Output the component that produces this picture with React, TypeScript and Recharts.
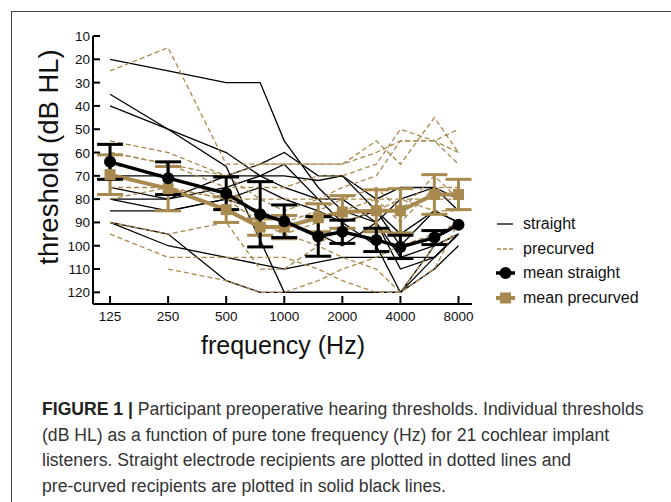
import React from 'react';
import { ComposedChart, Line, XAxis, YAxis, ErrorBar } from 'recharts';

// frequencies (Hz) tested
const freqs = [125, 250, 500, 750, 1000, 1500, 2000, 3000, 4000, 6000, 8000];
const xTicks = [125, 250, 500, 1000, 2000, 4000, 8000];
const yTicks = [10, 20, 30, 40, 50, 60, 70, 80, 90, 100, 110, 120];

// individual thresholds, straight electrode (solid black)
const straight1 = [20, 25, 30, 30, 55, 75, 85, 90, 110, 105, 95];
const straight2 = [35, 50, 66, null, 120, null, 120, 120, 120, 105, 95];
const straight3 = [40, 50, 60, 70, 75, 80, 90, 100, 120, 100, 95];
const straight4 = [70, 70, 70, 70, 70, 72, 70, 80, 75, 75, 80];
const straight5 = [75, 80, 75, 70, 65, 80, 80, 90, 80, 75, 85];
const straight6 = [80, 85, 80, 75, 80, 85, 90, 85, 95, 85, 90];
const straight7 = [85, 85, 80, 85, 90, 95, 100, 90, 105, 100, 95];
const straight8 = [90, 100, 105, 108, 110, 107, 105, 105, 105, 105, 95];
const straight9 = [90, 95, 115, 120, 120, 120, 120, 120, 120, 110, 100];
const straight10 = [80, 80, 70, 65, 60, 70, 70, 85, 100, 85, 90];

// individual thresholds, precurved electrode (dashed brown)
const precurved1 = [25, 15, 65, 65, 65, 65, 65, 60, 55, 55, 65];
const precurved2 = [55, 60, 70, 65, 65, 65, 65, 55, 65, 45, 60];
const precurved3 = [60, 65, 75, 75, 75, 70, 70, 65, 50, 55, 60];
const precurved4 = [60, 65, 70, 80, 80, 80, 75, 70, 55, 55, 50];
const precurved5 = [75, 75, 80, 80, 85, 80, 80, 75, 85, 70, 80];
const precurved6 = [80, 75, 80, 90, 95, 90, 85, 80, 80, 85, 85];
const precurved7 = [90, 95, 90, 110, 110, 100, 90, 85, 80, 80, 80];
const precurved8 = [95, 105, 105, 105, 105, 110, 115, 120, 120, 110, 90];
const precurved9 = [null, 110, 115, 120, 120, 115, 110, 105, 100, 95, 90];
const precurved10 = [70, 75, 85, 90, 95, 100, 105, 110, 120, 100, 95];
const precurved11 = [65, 70, 80, 85, 90, 85, 80, 80, 90, 75, 75];

// group means and error bars
const meanStraight = [64, 71, 77.5, 86.5, 89.5, 96, 94, 97.5, 100.5, 96.5, 91];
const errStraight = [7.5, 7, 7, 14, 7, 8.5, 5, 5, 5, 3, 0];
const meanPrecurved = [69.5, 75.5, 84.5, 92, 92, 88, 85.5, 85, 85, 78, 78];
const errPrecurved = [8.5, 9.5, 5.5, 3.5, 5, 6, 7, 9, 9.5, 8.5, 6.5];

const straightLines = [straight1, straight2, straight3, straight4, straight5, straight6, straight7, straight8, straight9, straight10];
const precurvedLines = [precurved1, precurved2, precurved3, precurved4, precurved5, precurved6, precurved7, precurved8, precurved9, precurved10, precurved11];

const BROWN = '#a88a4f';
const FONT = '"Liberation Sans", Arial, Helvetica, sans-serif';

const data = freqs.map((f, i) => {
  const row: Record<string, number | null> = {
    freq: f,
    meanS: meanStraight[i],
    errS: errStraight[i],
    meanP: meanPrecurved[i],
    errP: errPrecurved[i],
  };
  straightLines.forEach((s, k) => (row[`s${k}`] = s[i]));
  precurvedLines.forEach((p, k) => (row[`p${k}`] = p[i]));
  return row;
});

const YTick = ({ x, y, payload }: any) => (
  <g>
    <line x1={x} x2={x + 7} y1={y} y2={y} stroke="#000" strokeWidth={2} />
    <text x={x - 3} y={y} dy={5} textAnchor="end" fontSize={13.5} fontFamily={FONT} fill="#111">
      {payload.value}
    </text>
  </g>
);

const XTick = ({ x, y, payload }: any) => (
  <g>
    <line x1={x} x2={x} y1={y} y2={y - 8} stroke="#000" strokeWidth={2} />
    <text x={x} y={y + 17} textAnchor="middle" fontSize={13.5} fontFamily={FONT} fill="#111">
      {payload.value}
    </text>
  </g>
);

const SquareDot = ({ cx, cy }: any) => (
  <rect x={cx - 5.5} y={cy - 5.5} width={11} height={11} fill={BROWN} />
);

const CircleDot = ({ cx, cy }: any) => <circle cx={cx} cy={cy} r={6} fill="#000" />;

const legendRows = [
  { label: 'straight', top: 214 },
  { label: 'precurved', top: 239 },
  { label: 'mean straight', top: 263 },
  { label: 'mean precurved', top: 288 },
];

const LegendIcon = ({ idx }: { idx: number }) => (
  <svg width={22} height={20}>
    {idx === 0 && <line x1={2} x2={18} y1={10} y2={10} stroke="#000" strokeWidth={1.3} />}
    {idx === 1 && <line x1={2} x2={18} y1={10} y2={10} stroke={BROWN} strokeWidth={1.3} strokeDasharray="4 2" />}
    {idx === 2 && (
      <g>
        <line x1={1} x2={20} y1={10} y2={10} stroke="#000" strokeWidth={3.5} />
        <circle cx={10.5} cy={10} r={6} fill="#000" />
      </g>
    )}
    {idx === 3 && (
      <g>
        <line x1={1} x2={20} y1={10} y2={10} stroke={BROWN} strokeWidth={4} />
        <rect x={5} y={4.5} width={11} height={11} fill={BROWN} />
      </g>
    )}
  </svg>
);

export default function App() {
  return (
    <div style={{ position: 'absolute', left: 0, top: 0, width: 671, height: 502, background: '#fff', overflow: 'hidden', fontFamily: FONT }}>
      <div style={{ position: 'absolute', left: 11, top: 11, width: 700, height: 600, borderTop: '1px solid #444', borderLeft: '1px solid #444' }} />

      <div style={{ position: 'absolute', left: 0, top: 0 }}>
        <ComposedChart width={480} height={340} data={data} margin={{ top: 36, right: 8, bottom: 6, left: 33 }}>
          <XAxis
            dataKey="freq"
            type="number"
            scale="log"
            domain={[102, 9400]}
            ticks={xTicks}
            interval={0}
            allowDataOverflow
            height={30}
            tickSize={0}
            tickMargin={0}
            tickLine={false}
            tick={<XTick />}
            axisLine={{ stroke: '#000', strokeWidth: 2 }}
          />
          <YAxis
            type="number"
            domain={[10, 125]}
            reversed
            ticks={yTicks}
            interval={0}
            allowDataOverflow
            width={60}
            tickSize={0}
            tickMargin={0}
            tickLine={false}
            tick={<YTick />}
            axisLine={{ stroke: '#000', strokeWidth: 2 }}
          />
          {straightLines.map((_, k) => (
            <Line
              key={`s${k}`}
              dataKey={`s${k}`}
              stroke="#000"
              strokeWidth={1.3}
              dot={false}
              connectNulls
              isAnimationActive={false}
            />
          ))}
          {precurvedLines.map((_, k) => (
            <Line
              key={`p${k}`}
              dataKey={`p${k}`}
              stroke={BROWN}
              strokeWidth={1.3}
              strokeDasharray="5 3"
              dot={false}
              connectNulls
              isAnimationActive={false}
            />
          ))}
          <Line dataKey="meanP" stroke={BROWN} strokeWidth={4} dot={<SquareDot />} isAnimationActive={false}>
            <ErrorBar dataKey="errP" width={13} stroke={BROWN} strokeWidth={3} direction="y" />
          </Line>
          <Line dataKey="meanS" stroke="#000" strokeWidth={3.5} dot={<CircleDot />} isAnimationActive={false}>
            <ErrorBar dataKey="errS" width={13} stroke="#000" strokeWidth={3} direction="y" />
          </Line>
        </ComposedChart>
      </div>

      {/* axis titles */}
      <div
        style={{
          position: 'absolute',
          left: 49,
          top: 157,
          transform: 'translate(-50%, -50%) rotate(-90deg)',
          whiteSpace: 'nowrap',
          fontSize: 27.5,
          color: '#111',
        }}
      >
        threshold (dB HL)
      </div>
      <div
        style={{
          position: 'absolute',
          left: 283,
          top: 345,
          transform: 'translate(-50%, -50%)',
          whiteSpace: 'nowrap',
          fontSize: 25,
          color: '#111',
        }}
      >
        frequency (Hz)
      </div>

      {/* legend */}
      {legendRows.map((r, i) => (
        <div key={r.label} style={{ position: 'absolute', left: 495, top: r.top, height: 20, display: 'flex', alignItems: 'center', fontSize: 16, color: '#111', whiteSpace: 'nowrap' }}>
          <LegendIcon idx={i} />
          <span style={{ marginLeft: 6 }}>{r.label}</span>
        </div>
      ))}

      {/* caption */}
      <div style={{ position: 'absolute', left: 42, top: 397, fontSize: 17.6, lineHeight: '25.5px', color: '#333', whiteSpace: 'nowrap' }}>
        <div>
          <b style={{ color: '#222' }}>FIGURE 1 |</b> Participant preoperative hearing thresholds. Individual thresholds
        </div>
        <div>(dB HL) as a function of pure tone frequency (Hz) for 21 cochlear implant</div>
        <div>listeners. Straight electrode recipients are plotted in dotted lines and</div>
        <div>pre-curved recipients are plotted in solid black lines.</div>
      </div>
    </div>
  );
}
